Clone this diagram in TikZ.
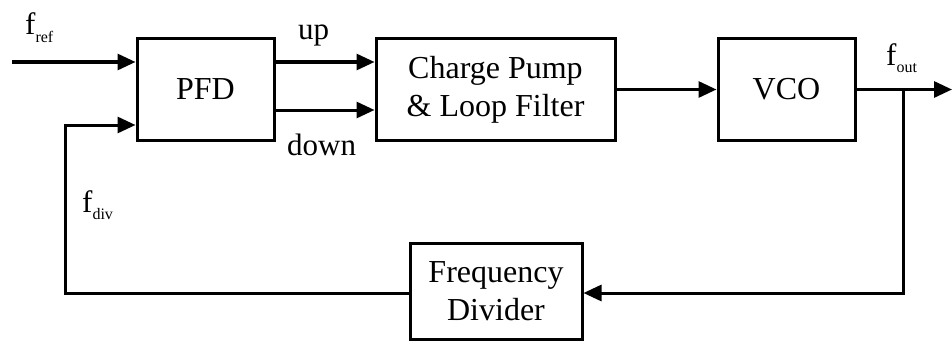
\documentclass[tikz,border=0pt]{standalone}
\usepackage{fontspec}
\setmainfont{Liberation Serif}
\usetikzlibrary{arrows.meta,calc}

% signal name: f with a lowered, small subscript word
\newcommand{\sig}[1]{f\raisebox{-7pt}{\fontsize{16}{16}\selectfont #1}}

\begin{document}
\begin{tikzpicture}[x=1pt,y=-1pt,
  blk/.style={draw,line width=3pt,rectangle,inner sep=0pt,align=center,
    font=\fontsize{32}{38}\selectfont},
  wire/.style={line width=3pt},
  arr/.style={wire,-{Triangle[length=18pt,width=16pt]}},
  lbl/.style={inner sep=0pt,anchor=base west,font=\fontsize{31}{37}\selectfont}]
\useasboundingbox (0,0) rectangle (952,345);

% blocks
\node[blk,minimum width=137pt,minimum height=101pt] (pfd) at (205.5,89.5) {PFD};
\node[blk,minimum width=239pt,minimum height=101pt] (cp) at (495.5,89.5) {Charge Pump\\\& Loop Filter};
\node[blk,minimum width=137pt,minimum height=101pt] (vco) at (786.5,89.5) {VCO};
\node[blk,minimum width=172pt,minimum height=96pt] (div) at (496,291) {Frequency\\Divider};

% free ends and branch point
\coordinate (in) at (12,62);
\coordinate (out) at (952,89.5);
\coordinate (tap) at (903,89.5);
\coordinate (fbc) at (65,293);

% forward path
\draw[arr] (in) -- (in -| pfd.west);
\draw[arr] ($(pfd.east)+(0,-27.5)$) -- ($(cp.west)+(0,-27.5)$);
\draw[arr] ($(pfd.east)+(0,20.5)$) -- ($(cp.west)+(0,20.5)$);
\draw[arr] (cp.east) -- (vco.west);
\draw[arr] (vco.east) -- (out);

% feedback path
\draw[arr] (tap) -- (tap |- fbc) -- (div.east |- fbc);
\draw[arr] (div.west |- fbc) -- (fbc) -- (fbc |- {$(pfd.west)+(0,35.5)$}) -- ($(pfd.west)+(0,35.5)$);

% labels
\node[lbl] (lref) at (25,35) {\sig{ref}};
\node[lbl] (lup) at (298,40) {up};
\node[lbl] (ldown) at (287,155) {down};
\node[lbl] (lout) at (886,66) {\sig{out}};
\node[lbl] (ldiv) at (82,212) {\sig{div}};
\end{tikzpicture}
\end{document}
